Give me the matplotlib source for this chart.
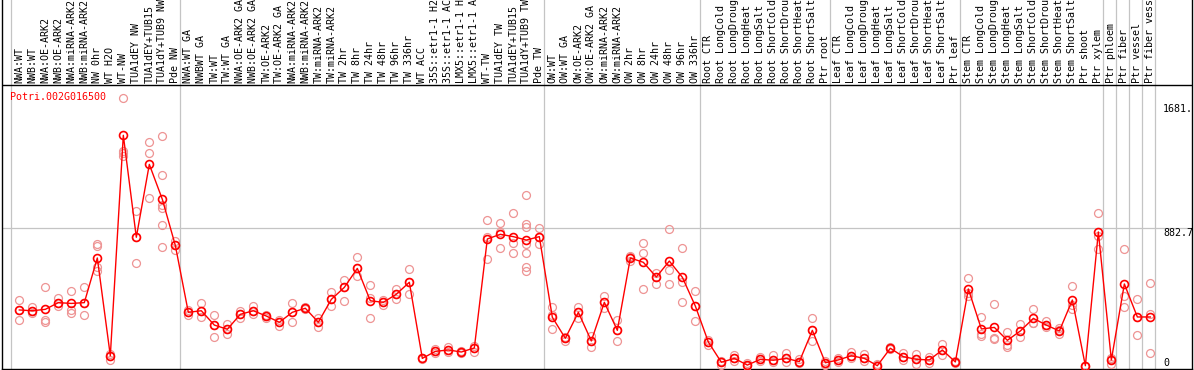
import numpy as np
import matplotlib
matplotlib.use('Agg')
import matplotlib.pyplot as plt

# gene shown in the chart
gene = 'Potri.002G016500'

# sample names (as printed, cut to 14 chars)
labels = [
    'NWA:WT', 'NWB:WT', 'NWA:OE-ARK2', 'NWB:OE-ARK2', 'NWA:miRNA-ARK2', 'NWB:miRNA-ARK2',
    'NW 0hr', 'WT H2O', 'WT-NW', 'TUA1dEY NW', 'TUA1dEY+TUB15', 'TUA1dY+TUB9 NW', 'Pde NW',
    'NWA:WT GA', 'NWBWT GA', 'TW:WT', 'TW:WT GA', 'NWA:OE-ARK2 GA', 'NWB:OE-ARK2 GA',
    'TW:OE-ARK2', 'TW:OE-ARK2 GA', 'NWA:miRNA-ARK2', 'NWB:miRNA-ARK2', 'TW:miRNA-ARK2',
    'TW:miRNA-ARK2', 'TW 2hr', 'TW 8hr', 'TW 24hr', 'TW 48hr', 'TW 96hr', 'TW 336hr',
    'WT ACC', '35S::etr1-1 H2', '35S::etr1-1 AC', 'LMX5::etr1-1 H', 'LMX5::etr1-1 A',
    'WT-TW', 'TUA1dEY TW', 'TUA1dEY+TUB15', 'TUA1dY+TUB9 TW', 'Pde TW',
    'OW:WT', 'OW:WT GA', 'OW:OE-ARK2', 'OW:OE-ARK2 GA', 'OW:miRNA-ARK2', 'OW:miRNA-ARK2',
    'OW 2hr', 'OW 8hr', 'OW 24hr', 'OW 48hr', 'OW 96hr', 'OW 336hr',
    'Root CTR', 'Root LongCold', 'Root LongDroug', 'Root LongHeat', 'Root LongSalt',
    'Root ShortCold', 'Root ShortDrou', 'Root ShortHeat', 'Root ShortSalt', 'Ptr root',
    'Leaf CTR', 'Leaf LongCold', 'Leaf LongDroug', 'Leaf LongHeat', 'Leaf LongSalt',
    'Leaf ShortCold', 'Leaf ShortDrou', 'Leaf ShortHeat', 'Leaf ShortSalt', 'Ptr leaf',
    'Stem CTR', 'Stem LongCold', 'Stem LongDroug', 'Stem LongHeat', 'Stem LongSalt',
    'Stem ShortCold', 'Stem ShortDrou', 'Stem ShortHeat', 'Stem ShortSalt', 'Ptr shoot',
    'Ptr xylem', 'Ptr phloem', 'Ptr fiber', 'Ptr vessel', 'Ptr fiber vess',
]

# mean expression per sample
means = [
    358, 353, 362, 405, 400, 405, 692, 64, 1480, 825, 1293, 1069, 773,
    343, 353, 261, 234, 330, 353, 319, 279, 343, 369, 279, 426, 503, 625, 417,
    407, 459, 536, 47, 92, 101, 88, 114, 814, 844, 829, 807, 829,
    311, 176, 343, 159, 407, 227, 692, 664, 570, 672, 568, 383,
    152, 22, 47, 4, 41, 35, 47, 26, 227, 19,
    37, 64, 47, 0, 112, 58, 41, 37, 101, 24,
    493, 236, 246, 163, 223, 304, 261, 223, 422, 0, 859,
    37, 525, 313, 313,
]

# replicate values per sample
reps = [
    [422, 358, 294], [379, 336, 353], [503, 294, 283], [437, 383, 405],
    [480, 358, 340], [503, 405, 326], [780, 769, 636, 608], [73, 35, 64],
    [1717, 1379, 1364, 1347], [995, 825, 658], [1435, 1364, 1075],
    [1475, 1225, 1032, 1015, 904, 760], [803, 773, 743],
    [358, 326, 343], [400, 315, 353], [326, 186, 261], [266, 206, 234],
    [353, 304, 330], [385, 330, 353], [326, 304, 319], [294, 257, 279],
    [400, 283, 343], [375, 362, 369], [308, 250, 279], [471, 385, 426],
    [550, 415, 503], [700, 578, 625], [516, 437, 304], [422, 390, 407],
    [491, 428, 459], [619, 459, 536], [52, 44, 47], [105, 80, 92],
    [122, 90, 101], [92, 84, 88], [129, 90, 114], [936, 829, 685],
    [915, 861, 754], [979, 786, 722], [1096, 908, 893, 780, 722, 636, 608],
    [882, 829, 780],
    [375, 324, 234], [186, 176, 159], [379, 343, 304], [193, 159, 122],
    [448, 407, 369], [294, 227, 161], [706, 698, 672], [786, 722, 491],
    [593, 570, 523], [878, 615, 523], [756, 540, 407], [480, 383, 287],
    [165, 152, 133], [30, 22, 4], [69, 47, 32], [15, 4, 0], [58, 41, 28],
    [69, 35, 22], [79, 47, 22], [43, 26, 15], [304, 227, 159], [30, 19, 4],
    [51, 37, 22], [90, 64, 51], [73, 47, 30], [9, 2, 0], [122, 112, 105],
    [79, 58, 35], [73, 41, 9], [58, 37, 15], [137, 101, 69], [30, 24, 15],
    [561, 470, 450], [311, 205, 193], [394, 175, 170], [218, 133, 122],
    [268, 223, 184], [364, 276, 272], [289, 261, 247], [240, 227, 202],
    [512, 390, 364], [0, 0, 0], [981, 835, 750],
    [51, 40, 9], [750, 448, 377], [428, 313, 197], [529, 334, 82],
]

# first sample index of each block (last entry closes the final block)
group_starts = [0, 13, 41, 53, 63, 73, 84, 85, 86, 87, 88]

# axis scale labels on the right
scale_ticks = [1681.0, 882.7, 0]
scale_text = ['1681.', '882.7', '0']

mono = 'DejaVu Sans Mono'
red = '#ff0000'
pink = '#ee9494'
grey = '#c4c4c4'

fig = plt.figure(figsize=(11.94, 3.70), dpi=100)
ax = fig.add_axes([1.5 / 1194, 1.5 / 370, 1190.2 / 1194, 368.5 / 370])

x = np.arange(len(means))
ax.set_xlim(-1.37, 90.18)
ax.set_ylim(-18, 2349)
header_y = 1803  # line between the name strip and the plot

# group separators and middle gridline
for g in group_starts:
    ax.axvline(g - 0.615, color=grey, lw=0.9, zorder=1)
ax.axhline(882.7, color=grey, lw=0.9, zorder=1)
ax.axhline(header_y, color='black', lw=1.0, zorder=2)

# replicates
rx = np.concatenate([[i] * len(r) for i, r in enumerate(reps)])
ry = np.concatenate(reps)
ax.plot(rx, ry, 'o', ms=5.7, mfc='none', mec=pink, mew=0.9, zorder=3)

# mean line
ax.plot(x, means, '-', color=red, lw=1.0, zorder=4)
ax.plot(x, means, 'o', ms=5.7, mfc='none', mec=red, mew=1.2, zorder=5)

# sample names, rotated
for i, lab in enumerate(labels):
    ax.text(i, 1815, lab, rotation=90, ha='center', va='bottom',
            family=mono, fontsize=7.2, color='black', clip_on=True)

# right-hand scale labels
for v, t in zip(scale_ticks, scale_text):
    va = 'baseline' if v == 0 else 'top'
    ax.text(87.98, v, t, ha='left', va=va, family=mono, fontsize=7.2, color='black')

fig.text(10 / 1194, 1 - 97 / 370, gene, ha='left', va='center',
         family=mono, fontsize=7.2, color=red)

ax.set_xticks([])
ax.set_yticks([])
ax.spines['top'].set_visible(False)
for s in ['left', 'right', 'bottom']:
    ax.spines[s].set_color('black')
    ax.spines[s].set_linewidth(1.0)

fig.savefig('out.png', dpi=100)
